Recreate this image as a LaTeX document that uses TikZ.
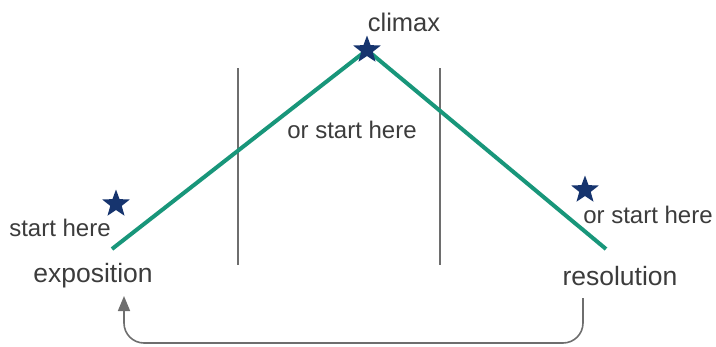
\documentclass[tikz,border=0pt]{standalone}
\usepackage{fontspec}
\setmainfont{Liberation Sans}
\usetikzlibrary{shapes.geometric,arrows.meta}
\definecolor{teal1}{RGB}{24,150,122}
\definecolor{navy1}{RGB}{22,52,110}
\definecolor{txt}{RGB}{60,60,60}
\definecolor{bar}{RGB}{110,110,110}
\begin{document}
\begin{tikzpicture}[x=1pt,y=-1pt,
  lbl/.style={text=txt,inner sep=0pt,font=\fontsize{24}{26}\selectfont},
  toplbl/.style={text=txt,inner sep=0pt,font=\fontsize{25.5}{27}\selectfont},
  biglbl/.style={text=txt,inner sep=0pt,font=\fontsize{26.5}{28}\selectfont},
  starmark/.style={star,star points=5,star point ratio=2.4,fill=navy1,inner sep=0pt,minimum size=29pt},
  divider/.style={draw=bar,line width=1.6pt},
  arc/.style={draw=teal1,line width=4pt},
  loop/.style={draw=bar,line width=1.6pt,rounded corners=20pt,-{Triangle[length=15pt,width=12pt]}}]
\useasboundingbox (0,0) rectangle (716,346);
% labels
\node[toplbl] (climax) at (404,22) {climax};
\node[lbl] (start) at (60,228) {start here};
\node[lbl] (midstart) at (352,130) {or start here};
\node[lbl] (rightstart) at (648,215) {or start here};
\node[biglbl] (exposition) at (93,276) {exposition};
\node[biglbl] (resolution) at (620,276) {resolution};
% dividers
\coordinate (d1t) at (238,68); \coordinate (d1b) at (238,265);
\coordinate (d2t) at (440,68); \coordinate (d2b) at (440,265);
\draw[divider] (d1t) -- (d1b);
\draw[divider] (d2t) -- (d2b);
% arc
\coordinate (arcL) at (112,249);
\coordinate (arcR) at (606,249);
\coordinate (peak) at (367,50);
\draw[arc] (arcL) -- (peak) -- (arcR);
% stars
\node[starmark] (s1) at (116,204) {};
\node[starmark] (s2) at (367,50) {};
\node[starmark] (s3) at (585,190) {};
% loop arrow
\coordinate (rx) at (583,298);
\coordinate (ex) at (124,296);
\draw[loop] (rx) -- (583,343) -| (ex);
\end{tikzpicture}
\end{document}
